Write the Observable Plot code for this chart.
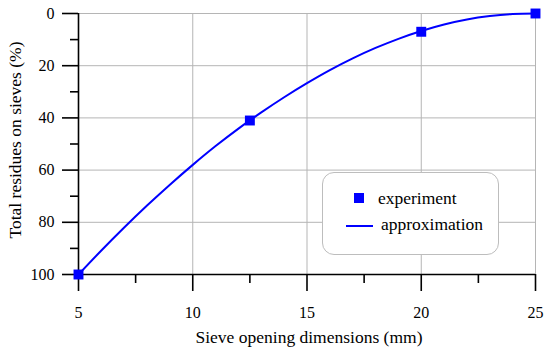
<!DOCTYPE html>
<html>
<head>
<meta charset="utf-8">
<script src="https://cdn.jsdelivr.net/npm/d3@7"></script>
<script src="https://cdn.jsdelivr.net/npm/@observablehq/plot@0.6"></script>
<style>
  html, body { margin: 0; padding: 0; background: #fff; }
  #wrap { position: relative; width: 550px; height: 354px; font-family: "Liberation Serif", serif; }
  #legend { position: absolute; left: 322px; top: 172px; width: 175px; height: 81px;
    border: 1px solid #bdbdbd; border-radius: 12px; background: #fff; }
  #legend svg { position: absolute; left: 0; top: 0; }
</style>
</head>
<body>
<div id="wrap"></div>
<script>
// Experimental points
const expX = [5, 12.5, 20, 25];
const expY = [100, 41, 7, 0];
// Approximation curve
const apX = [5, 6, 7, 8, 9, 10, 11, 12, 13, 14, 15, 16, 17, 18, 19, 20, 21, 22, 23, 24, 25];
const apY = [100, 90.8, 82.0, 73.6, 65.6, 58.0, 50.8, 44.1, 37.9, 32.1, 26.7, 21.7, 17.2, 13.2, 9.7, 6.7, 4.2, 2.3, 1.0, 0.2, 0];
// Ticks
const xMajor = [5, 10, 15, 20, 25];
const xMinor = [7.5, 12.5, 17.5, 22.5];
const yMajor = [0, 20, 40, 60, 80, 100];
const yMinor = [10, 30, 50, 70, 90];
const xTitle = "Sieve opening dimensions (mm)";
const yTitle = "Total residues on sieves (%)";
const seriesNames = ["experiment", "approximation"];

const blue = "#0000ff";
const serif = "Liberation Serif, serif";
const expData = expX.map((x, i) => ({x, y: expY[i]}));
const apData = apX.map((x, i) => ({x, y: apY[i]}));

const chart = Plot.plot({
  width: 550,
  height: 354,
  marginLeft: 78,
  marginRight: 15,
  marginTop: 13,
  marginBottom: 80,
  style: {fontFamily: serif, fontSize: "16px", background: "#fff", color: "#000", overflow: "visible"},
  x: {domain: [5, 25]},
  y: {domain: [0, 100], reverse: true},
  marks: [
    Plot.ruleX(xMajor, {stroke: "#b5b5b5", strokeWidth: 1, strokeOpacity: 1}),
    Plot.ruleY(yMajor, {stroke: "#b5b5b5", strokeWidth: 1, strokeOpacity: 1}),
    Plot.axisY({ticks: yMajor, tickSize: 16, tickPadding: 8, strokeWidth: 1.6, fontSize: 16, fontFamily: serif, label: null, tickFormat: d => String(d)}),
    Plot.axisY({ticks: yMinor, tickSize: 8, strokeWidth: 1.6, text: null, label: null}),
    Plot.axisX({ticks: xMajor, tickSize: 17, tickPadding: 15, strokeWidth: 1.6, fontSize: 16, fontFamily: serif, label: null, tickFormat: d => String(d)}),
    Plot.axisX({ticks: xMinor, tickSize: 9, strokeWidth: 1.6, text: null, label: null}),
    Plot.ruleX([5], {stroke: "#000", strokeWidth: 1.6}),
    Plot.ruleY([100], {stroke: "#000", strokeWidth: 1.6}),
    Plot.line(apData, {x: "x", y: "y", stroke: blue, strokeWidth: 2, curve: "catmull-rom"}),
    Plot.dot(expData, {x: "x", y: "y", symbol: "square", r: 5.6, fill: blue, stroke: "none"}),
    Plot.text([xTitle], {frameAnchor: "bottom", dx: 2, dy: 68, fontSize: 17.5, fontFamily: serif, fill: "#000"}),
    Plot.text([yTitle], {frameAnchor: "left", textAnchor: "middle", rotate: -90, dx: -63, dy: -4, fontSize: 17.5, fontFamily: serif, fill: "#000"})
  ]
});
const wrap = document.getElementById("wrap");
wrap.appendChild(chart);

// Legend
const legend = document.createElement("div");
legend.id = "legend";
wrap.appendChild(legend);
const ls = d3.select(legend).append("svg").attr("width", 175).attr("height", 81);
ls.append("rect").attr("x", 37 - 5 - 1).attr("y", 26 - 5 - 1).attr("width", 10).attr("height", 10).attr("fill", blue);
ls.append("line").attr("x1", 23).attr("x2", 50).attr("y1", 53).attr("y2", 53).attr("stroke", blue).attr("stroke-width", 2);
ls.append("text").attr("x", 55).attr("y", 31).attr("font-size", 17.5).attr("font-family", serif).text(seriesNames[0]);
ls.append("text").attr("x", 58).attr("y", 57).attr("font-size", 17.5).attr("font-family", serif).text(seriesNames[1]);
</script>
</body>
</html>
